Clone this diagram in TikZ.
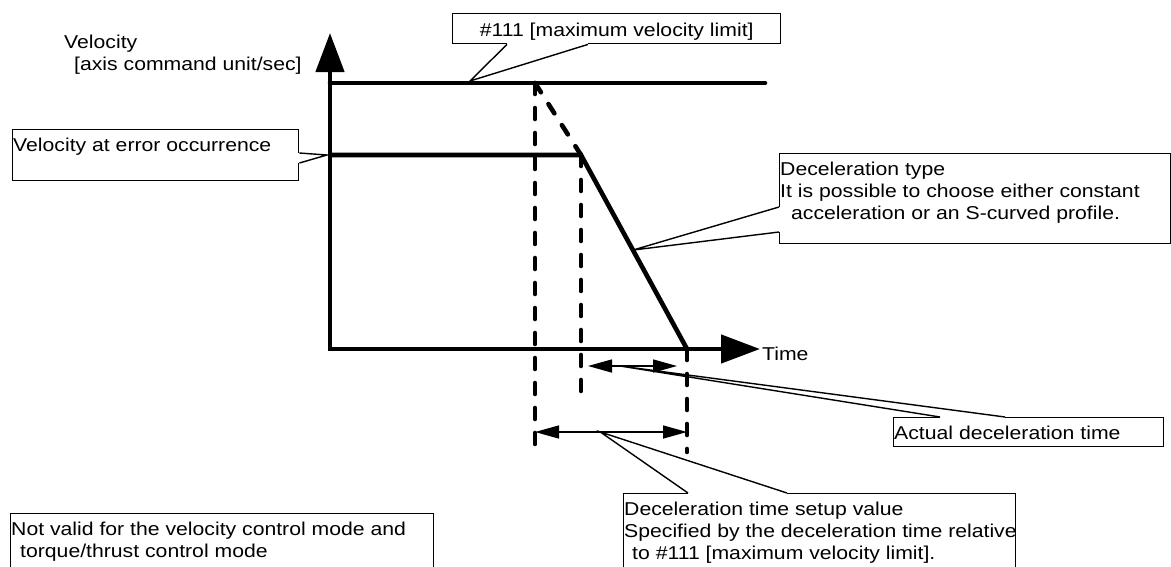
\documentclass[tikz,border=0pt]{standalone}
\usepackage{fontspec}
\setmainfont{Liberation Sans}[FakeStretch=1.14]
\usepackage{tikz}
\usetikzlibrary{calc,arrows.meta}

\tikzset{
bigtri/.tip={Triangle[length=39pt,width=28pt]},
dimtri/.tip={Triangle[length=24pt,width=13pt]},
thickline/.style={line width=4.6pt},
dashline/.style={line width=4.6pt, dash pattern=on 11pt off 14pt, line cap=round},
dimline/.style={line width=1.5pt},
callline/.style={line width=1.4pt},
callbox/.style={draw, line width=1.4pt, inner sep=0pt, anchor=north west},
calltext/.style={inner sep=0pt, align=left, anchor=north west, font=\fontsize{18.6}{22.3}\selectfont}
}

\begin{document}
\begin{tikzpicture}[x=1pt,y=-1pt]
\useasboundingbox (0,0) rectangle (1171,566);
\clip (0,0) rectangle (1171,566);

% reference node
\node (r) at (0,0) {};

%%% VELOCITY PROFILE
% axis corner and axis ends
\coordinate (o) at ($(r)+(330,349)$);
\coordinate (ytip) at ($(o)+(0,-316)$);
\coordinate (xtip) at ($(o)+(430,0)$);

% velocity levels and corners of the profile
\coordinate (vmax0) at ($(o)+(0,-266)$);
\coordinate (vmax1) at ($(vmax0)+(435,0)$);
\coordinate (verr0) at ($(o)+(0,-194)$);
\coordinate (verr1) at ($(verr0)+(251,0)$);
\coordinate (vstop) at ($(o)+(357,0)$);
\coordinate (vknee) at ($(vmax0)+(205,0)$);

\draw[thickline, bigtri-bigtri] (ytip) -- (o) -- (xtip);
\draw[thickline, line cap=round] (vmax0) -- (vmax1);
\draw[thickline] (verr0) -- (verr1) -- (vstop);
\draw[dashline] (vknee) -- (verr1);

% dashed drop lines below the corners
\foreach \p/\l [count=\i] in {vknee/361,verr1/237,vstop/103}
{
\coordinate (d\i) at ($(\p)+(0,\l)$);
\draw[dashline] (\p) -- (d\i);
}

% time spans
\coordinate (a0) at ($(verr1)+(7,211)$);
\coordinate (a1) at ($(vstop)+(-10,17)$);
\coordinate (s0) at ($(vknee)+(0,349)$);
\coordinate (s1) at ($(vstop)+(0,83)$);
\draw[dimline, dimtri-dimtri] (a0) -- (a1);
\draw[dimline, dimtri-dimtri] (s0) -- (s1);

% axis labels
\node[calltext] (vlab) at ($(r)+(64,35)$) {Velocity\\\hspace*{10pt}[axis command unit/sec]};
\node[calltext, anchor=base west] (tlab) at ($(xtip)+(2,11)$) {Time};

%%% CALLOUTS
% points the callouts point at
\coordinate (c111) at ($(vmax0)+(140,-2)$);
\coordinate (cerr) at ($(verr0)+(-3,0)$);
\coordinate (ctype) at ($(verr1)!0.49!(vstop)$);
\coordinate (cact) at ($(a0)!0.36!(a1)$);
\coordinate (cset) at ($(s0)!0.43!(s1)$);

% frames
\node[callbox, minimum width=328pt, minimum height=30pt] (b111) at ($(r)+(452,13)$) {};
\node[callbox, minimum width=286pt, minimum height=51pt] (berr) at ($(r)+(12,129)$) {};
\node[callbox, minimum width=391pt, minimum height=90pt] (btype) at ($(r)+(779,153)$) {};
\node[callbox, minimum width=270pt, minimum height=29pt] (bact) at ($(r)+(893,417)$) {};
\node[callbox, minimum width=392pt, minimum height=100pt] (bset) at ($(r)+(623,493)$) {};
\node[callbox, minimum width=423pt, minimum height=100pt] (bnv) at ($(r)+(10,513)$) {};

% pointers: open the frame, then draw the wedge
\foreach \b/\a/\px/\py/\qx/\qy/\c in {b111/south west/55/0/136/0/c111,
berr/north east/0/24/0/34/cerr, btype/north west/0/54/0/79/ctype,
bact/north west/47/0/112/0/cact, bset/north west/65/0/164/0/cset}
{
\draw[white, line width=2.2pt] ($(\b.\a)+(\px,\py)$) -- ($(\b.\a)+(\qx,\qy)$);
\draw[callline] ($(\b.\a)+(\px,\py)$) -- (\c) -- ($(\b.\a)+(\qx,\qy)$);
}

% texts
\node[calltext, anchor=north] (t111) at ($(b111.north)+(0,9.5)$) {\#111 [maximum velocity limit]};
\node[calltext] (terr) at ($(berr.north west)+(1,8.5)$) {Velocity at error occurrence};
\node[calltext] (ttype) at ($(btype.north west)+(1,8.5)$) {Deceleration type\\It is possible to choose either constant\\\hspace*{11pt}acceleration or an S-curved profile.};
\node[calltext] (tact) at ($(bact.north west)+(1,8.5)$) {Actual deceleration time};
\node[calltext] (tset) at ($(bset.north west)+(1,8.5)$) {Deceleration time setup value\\Specified by the deceleration time relative\\\hspace*{8pt}to \#111 [maximum velocity limit].};
\node[calltext] (tnv) at ($(bnv.north west)+(1,8.5)$) {Not valid for the velocity control mode and\\\hspace*{9pt}torque/thrust control mode};
\end{tikzpicture}
\end{document}
